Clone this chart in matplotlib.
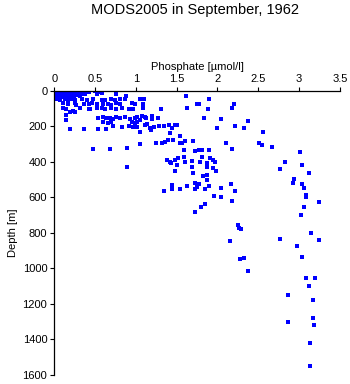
import matplotlib
matplotlib.use("Agg")
import matplotlib.pyplot as plt

plt.rcParams['font.family'] = ['Liberation Sans', 'DejaVu Sans']

# surface cluster, 0-40 m
surf_phos = [0.01, 0.03, 0.05, 0.07, 0.09, 0.11, 0.13, 0.15, 0.17, 0.19, 0.21, 0.23, 0.25, 0.27, 0.29, 0.31, 0.33, 0.35, 0.37, 0.39,
             0.02, 0.04, 0.06, 0.08, 0.10, 0.12, 0.14, 0.16, 0.18, 0.20, 0.22, 0.24, 0.26, 0.28, 0.30, 0.32, 0.34, 0.36, 0.40, 0.42,
             0.01, 0.03, 0.05, 0.08, 0.11, 0.14, 0.17, 0.20, 0.23, 0.26, 0.29, 0.32, 0.35, 0.38,
             0.02, 0.04, 0.07, 0.10, 0.13, 0.16, 0.19, 0.22, 0.25, 0.28, 0.31, 0.34,
             0.02, 0.05, 0.09, 0.13, 0.18, 0.22, 0.27, 0.31,
             0.04, 0.10, 0.16, 0.24,
             0.50, 0.53, 0.56, 0.58, 0.52]
surf_depth = [0, 2, 0, 3, 0, 1, 0, 2, 0, 0, 3, 0, 1, 0, 2, 0, 0, 3, 0, 1,
              8, 10, 7, 9, 8, 11, 8, 7, 10, 8, 9, 8, 11, 7, 8, 10, 8, 9, 8, 7,
              16, 18, 15, 17, 16, 19, 15, 16, 18, 16, 15, 17, 16, 18,
              4, 5, 4, 5, 4, 5, 4, 5, 4, 5, 4, 5,
              25, 27, 24, 26, 25, 28, 24, 26,
              33, 35, 32, 34,
              0, 4, 8, 12, 15]

# upper layer, 40-450 m
upper_phos = [0.76, 0.88, 1.62,
              0.03, 0.07, 0.13, 0.17, 0.21, 0.25, 0.34, 0.40, 0.48, 0.58, 0.62, 0.70, 0.75, 0.81, 0.87, 1.05, 1.10, 1.90,
              0.11, 0.17, 0.25, 0.27, 0.36, 0.42, 0.46, 0.52, 0.60, 0.66, 0.70, 0.76, 0.81, 0.95, 0.99, 1.09, 1.75, 1.78, 2.20,
              0.11, 0.15, 0.32, 0.42, 0.44, 0.52, 0.58, 0.62, 0.70, 0.76, 0.83, 0.91, 0.97, 1.09, 1.31, 1.63, 1.89, 2.18,
              0.19, 0.23, 0.25, 0.15,
              0.54, 0.60, 0.64, 0.68, 0.72, 0.76, 0.81, 0.87, 0.93, 0.99, 1.01, 1.13, 1.08, 1.11, 1.20, 1.27, 1.84,
              0.15, 1.20, 2.04, 1.05,
              0.60, 0.66, 0.70, 0.95, 0.99, 1.01, 2.38,
              0.72, 0.83, 0.91, 0.97, 1.01, 1.11, 1.14, 1.22, 1.28, 1.34, 1.41, 1.48, 1.50, 2.21,
              0.19, 0.36, 0.54, 0.64, 1.44, 2.00, 2.33, 1.17,
              1.05, 1.19, 1.42, 2.56, 1.54,
              1.25, 1.32, 1.36, 1.40, 1.46, 1.54, 1.57, 1.60, 1.70, 2.11, 2.51, 2.54, 2.67, 1.05,
              0.48, 0.68, 0.89, 1.59, 1.73, 1.78, 1.81, 1.90, 2.18,
              3.01, 1.81, 1.91, 1.59, 1.52, 1.48, 1.38, 1.69, 1.95, 1.97, 2.83,
              1.42, 1.43, 1.60, 1.79, 1.87, 1.50, 1.69, 1.87, 1.95, 0.89, 3.04, 2.77]
upper_depth = [17, 26, 28,
               45, 50, 47, 52, 44, 49, 47, 51, 45, 48, 53, 46, 50, 47, 44, 47, 47, 47,
               70, 75, 68, 78, 72, 74, 69, 76, 73, 71, 77, 70, 74, 68, 75, 73, 73, 74, 73,
               96, 101, 94, 99, 103, 97, 95, 100, 98, 104, 96, 99, 102, 98, 100, 98, 102, 98,
               117, 113, 120, 133,
               152, 148, 155, 150, 157, 146, 153, 149, 156, 151, 147, 154, 141, 145, 141, 150, 150,
               163, 160, 160, 163,
               175, 178, 172, 176, 180, 173, 171,
               200, 203, 197, 201, 205, 192, 188, 201, 195, 197, 193, 191, 190, 199,
               214, 216, 212, 215, 210, 210, 210, 207,
               229, 222, 235, 229, 252,
               295, 291, 286, 276, 276, 295, 295, 282, 282, 291, 295, 305, 318, 301,
               327, 329, 320, 333, 336, 331, 334, 333, 329,
               346, 370, 376, 370, 376, 389, 389, 393, 389, 398, 398,
               398, 408, 398, 402, 408, 417, 427, 427, 436, 430, 417, 438]

# deeper layer, below 450 m
deep_phos = [1.48, 1.70, 1.82, 1.87, 1.98, 1.87, 1.44, 1.63, 1.72, 1.77, 1.75, 1.90, 2.16, 1.34, 1.44, 1.54, 1.72, 1.85,
             2.04, 2.22, 1.96, 2.04, 2.18, 1.85, 1.80, 1.72, 2.25, 2.27, 2.29, 2.15, 2.28, 2.33, 2.38,
             3.12, 2.94, 2.93, 3.04, 3.06, 3.09, 3.09, 3.24, 3.06, 3.02, 3.15, 2.77, 3.24, 2.98, 3.04,
             3.08, 3.19, 3.12, 2.86, 3.17, 3.17, 2.87, 3.18, 3.13, 3.14]
deep_depth = [449, 464, 481, 476, 449, 504, 530, 537, 521, 527, 540, 534, 525, 566, 551, 555, 555, 555,
              548, 566, 592, 596, 622, 639, 656, 684, 758, 773, 778, 846, 949, 942, 1015,
              464, 498, 521, 527, 549, 586, 600, 628, 656, 699, 801, 836, 840, 876, 938,
              1052, 1056, 1097, 1152, 1180, 1282, 1303, 1320, 1419, 1550]

x_ticks = [0, 0.5, 1, 1.5, 2, 2.5, 3, 3.5]
x_labels = ['0', '0.5', '1', '1.5', '2', '2.5', '3', '3.5']
y_ticks = [0, 200, 400, 600, 800, 1000, 1200, 1400, 1600]

phos = surf_phos + upper_phos + deep_phos
depth = surf_depth + upper_depth + deep_depth

fig = plt.figure(figsize=(3.5, 3.84), dpi=100)
ax = fig.add_axes([0.155, 0.024, 0.816, 0.739])

pts = ax.scatter(phos, depth, s=6.5, marker='s', color='#0000ff', linewidths=0)
pts.set_antialiased(False)

ax.set_xlim(0, 3.5)
ax.set_ylim(1600, 0)
ax.xaxis.tick_top()
ax.xaxis.set_label_position('top')
ax.set_xticks(x_ticks)
ax.set_xticklabels(x_labels)
ax.set_yticks(y_ticks)
ax.tick_params(direction='out', length=3, width=0.8, labelsize=8, pad=2)
ax.spines['bottom'].set_visible(False)
ax.spines['right'].set_visible(False)
ax.spines['top'].set_linewidth(0.9)
ax.spines['left'].set_linewidth(0.9)

ax.set_xlabel('Phosphate [\u00b5mol/l]', fontsize=8, labelpad=3)
ax.set_ylabel('Depth [m]', fontsize=8, labelpad=3)

fig.text(0.557, 0.974, 'MODS2005 in September, 1962', ha='center', va='center', fontsize=10.5)

fig.savefig('out.png', dpi=100)
